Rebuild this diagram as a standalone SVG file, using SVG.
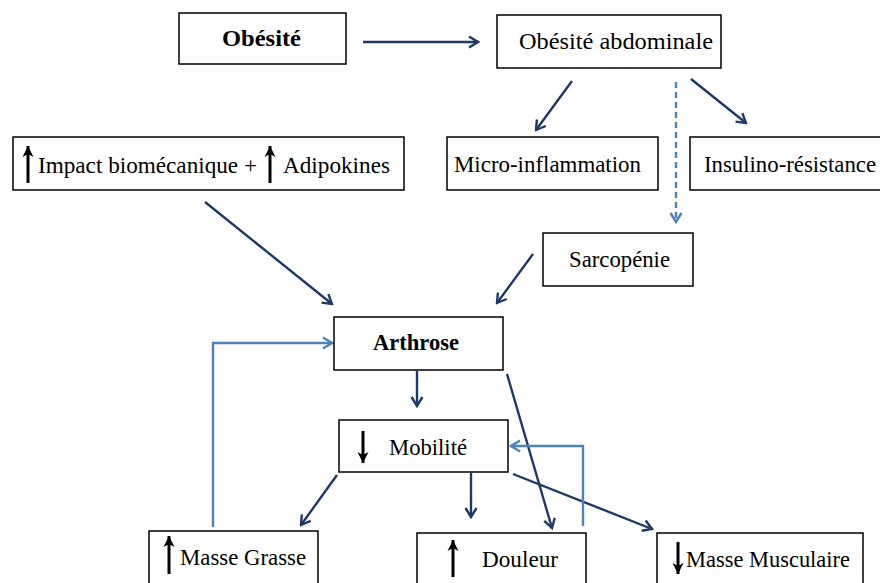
<svg xmlns="http://www.w3.org/2000/svg" width="880" height="583" viewBox="0 0 880 583">
<style>
.box{fill:#fff;stroke:#000;stroke-width:1.5}
.t{font-family:'Liberation Serif','DejaVu Serif','Noto Serif',serif;font-size:23px;fill:#000}
.b{font-weight:bold}
.dk{fill:none;stroke:#1F3864;stroke-width:2.4;marker-end:url(#ah)}
.lt{fill:none;stroke:#4F81BD;stroke-width:2.4;marker-end:url(#ahl)}
.ds{fill:none;stroke:#4F81BD;stroke-width:2.4;stroke-dasharray:6 4;marker-end:url(#ahl)}
.sym{fill:none;stroke:#000;stroke-width:3;marker-end:url(#sa)}
</style>
<defs>
<marker id="ah" viewBox="0 0 14 14" refX="12" refY="7" markerWidth="14" markerHeight="14" orient="auto" markerUnits="userSpaceOnUse"><path d="M3,1.5 L12,7 L3,12.5" fill="none" stroke="#1F3864" stroke-width="2.4"/></marker>
<marker id="ahl" viewBox="0 0 14 14" refX="12" refY="7" markerWidth="14" markerHeight="14" orient="auto" markerUnits="userSpaceOnUse"><path d="M3,1.5 L12,7 L3,12.5" fill="none" stroke="#4F81BD" stroke-width="2.4"/></marker>
<marker id="sa" viewBox="0 0 12 12" refX="11" refY="6" markerWidth="12" markerHeight="12" orient="auto" markerUnits="userSpaceOnUse"><path d="M0,0.5 L11,6 L0,11.5 L3,6 Z" fill="#000"/></marker>
</defs>

<g id="connectors">
<line class="dk" x1="363" y1="42" x2="478" y2="42"/>
<line class="dk" x1="572" y1="81" x2="536" y2="130"/>
<line class="dk" x1="691" y1="79" x2="746" y2="123"/>
<line class="ds" x1="676" y1="82" x2="676" y2="222"/>
<line class="dk" x1="205" y1="202" x2="332" y2="304"/>
<line class="dk" x1="533" y1="254" x2="497" y2="303"/>
<line class="dk" x1="417" y1="371" x2="417" y2="406"/>
<line class="dk" x1="507" y1="374" x2="552" y2="528"/>
<line class="dk" x1="337" y1="475" x2="301" y2="525"/>
<line class="dk" x1="471" y1="473" x2="471" y2="517"/>
<line class="dk" x1="513" y1="474" x2="652" y2="529"/>
<polyline class="lt" points="213,527 213,343 332,343"/>
<polyline class="lt" points="583,526 583,446 511,446"/>
</g>

<g id="obesite">
<rect class="box" x="179" y="13" width="167" height="51"/>
<text class="t b" x="222" y="46" textLength="79" lengthAdjust="spacingAndGlyphs">Obésité</text>
</g>

<g id="obesite-abdominale">
<rect class="box" x="497" y="15" width="224" height="53"/>
<text class="t" x="519" y="49" textLength="194" lengthAdjust="spacingAndGlyphs">Obésité abdominale</text>
</g>

<g id="impact">
<rect class="box" x="13" y="137" width="391" height="53"/>
<line class="sym" x1="28" y1="183" x2="28" y2="146"/>
<text class="t" x="38" y="173" textLength="219" lengthAdjust="spacingAndGlyphs">Impact biomécanique +</text>
<line class="sym" x1="270" y1="183" x2="270" y2="146"/>
<text class="t" x="283" y="173" textLength="107" lengthAdjust="spacingAndGlyphs">Adipokines</text>
</g>

<g id="micro-inflammation">
<rect class="box" x="447" y="137" width="211" height="53"/>
<text class="t" x="454" y="172" textLength="187" lengthAdjust="spacingAndGlyphs">Micro-inflammation</text>
</g>

<g id="insulino-resistance">
<rect class="box" x="690" y="137" width="192" height="53"/>
<text class="t" x="704" y="172" textLength="172" lengthAdjust="spacingAndGlyphs">Insulino-résistance</text>
</g>

<g id="sarcopenie">
<rect class="box" x="543" y="233" width="150" height="53"/>
<text class="t" x="569" y="267" textLength="101" lengthAdjust="spacingAndGlyphs">Sarcopénie</text>
</g>

<g id="arthrose">
<rect class="box" x="334" y="317" width="169" height="53"/>
<text class="t b" x="373" y="350" textLength="86" lengthAdjust="spacingAndGlyphs">Arthrose</text>
</g>

<g id="mobilite">
<rect class="box" x="339" y="420" width="169" height="52"/>
<line class="sym" x1="363" y1="431" x2="363" y2="463"/>
<text class="t" x="389" y="455" textLength="78" lengthAdjust="spacingAndGlyphs">Mobilité</text>
</g>

<g id="masse-grasse">
<rect class="box" x="149" y="531" width="169" height="60"/>
<line class="sym" x1="169" y1="574" x2="169" y2="536"/>
<text class="t" x="180" y="565" textLength="126" lengthAdjust="spacingAndGlyphs">Masse Grasse</text>
</g>

<g id="douleur">
<rect class="box" x="417" y="533" width="169" height="60"/>
<line class="sym" x1="453" y1="577" x2="453" y2="540"/>
<text class="t" x="482" y="567" textLength="76" lengthAdjust="spacingAndGlyphs">Douleur</text>
</g>

<g id="masse-musculaire">
<rect class="box" x="657" y="533" width="206" height="60"/>
<line class="sym" x1="678" y1="542" x2="678" y2="574"/>
<text class="t" x="686" y="567" textLength="164" lengthAdjust="spacingAndGlyphs">Masse Musculaire</text>
</g>
</svg>
